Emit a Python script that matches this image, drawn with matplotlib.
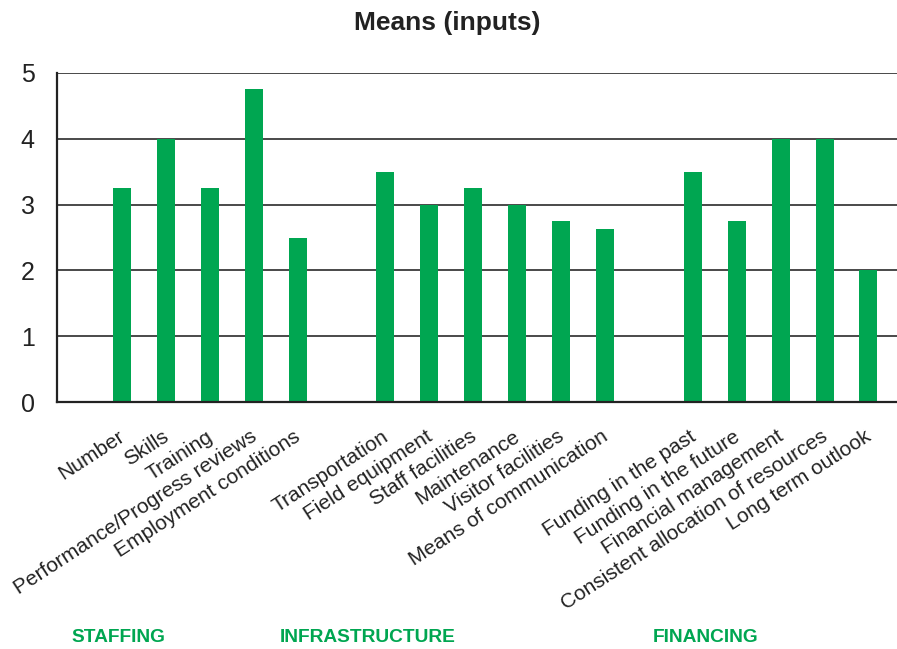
import matplotlib
matplotlib.use("Agg")
import matplotlib.pyplot as plt
import matplotlib.transforms as mtransforms
import numpy as np

plt.rcParams['font.family'] = ['Liberation Sans', 'DejaVu Sans']

categories = ["Number", "Skills", "Training", "Performance/Progress reviews", "Employment conditions",
              "Transportation", "Field equipment", "Staff facilities", "Maintenance", "Visitor facilities",
              "Means of communication",
              "Funding in the past", "Funding in the future", "Financial management",
              "Consistent allocation of resources", "Long term outlook"]
values = [3.25, 4.0, 3.25, 4.75, 2.5,
          3.5, 3.0, 3.25, 3.0, 2.75, 2.625,
          3.5, 2.75, 4.0, 4.0, 2.0]
group_sizes = [5, 6, 5]
group_names = ["STAFFING", "INFRASTRUCTURE", "FINANCING"]
group_label_pos = [-0.07, 5.6, 13.3]

# positions with one empty slot between groups
positions = []
start = 0
for g in group_sizes:
    positions.extend(range(start, start + g))
    start += g + 1
positions = np.array(positions)

green = '#00A651'

fig = plt.figure(figsize=(8.97, 6.49), dpi=100)
ax = fig.add_axes([57/897, 1 - 402/649, 1 - 57/897, (402 - 73)/649])

ax.bar(positions, values, width=0.41, color=green, zorder=3)
ax.set_xlim(-1.48, 17.65)
ax.set_ylim(0, 5)
ax.set_yticks(range(0, 6))
ax.yaxis.grid(True, color='#3a3a3a', linewidth=1.3, zorder=1)
ax.set_axisbelow(True)
for s in ['top', 'right']:
    ax.spines[s].set_visible(False)
for s in ['left', 'bottom']:
    ax.spines[s].set_color('#222222')
    ax.spines[s].set_linewidth(1.6)
    ax.spines[s].set_zorder(4)
ax.tick_params(axis='y', length=0, pad=16, labelsize=18, labelcolor='#222222')
ax.tick_params(axis='x', length=0, pad=18, labelsize=15, labelcolor='#222222')
ax.set_xticks(positions)
ax.set_xticklabels(categories, rotation=33, ha='right', rotation_mode='anchor')
offset = mtransforms.ScaledTranslation(-4/100, 0, fig.dpi_scale_trans)
for lab in ax.get_xticklabels():
    lab.set_transform(lab.get_transform() + offset)

fig.text((353 + 541) / 2 / 897, 1 - 23/649, "Means (inputs)", ha='center', va='center',
         fontsize=19, fontweight='bold', color='#222222')

trans = mtransforms.blended_transform_factory(ax.transData, fig.transFigure)
for name, xp in zip(group_names, group_label_pos):
    ax.text(xp, 1 - 638/649, name, transform=trans, ha='center', va='center',
            fontsize=13.8, fontweight='bold', color=green)

fig.savefig('out.png', dpi=100)
